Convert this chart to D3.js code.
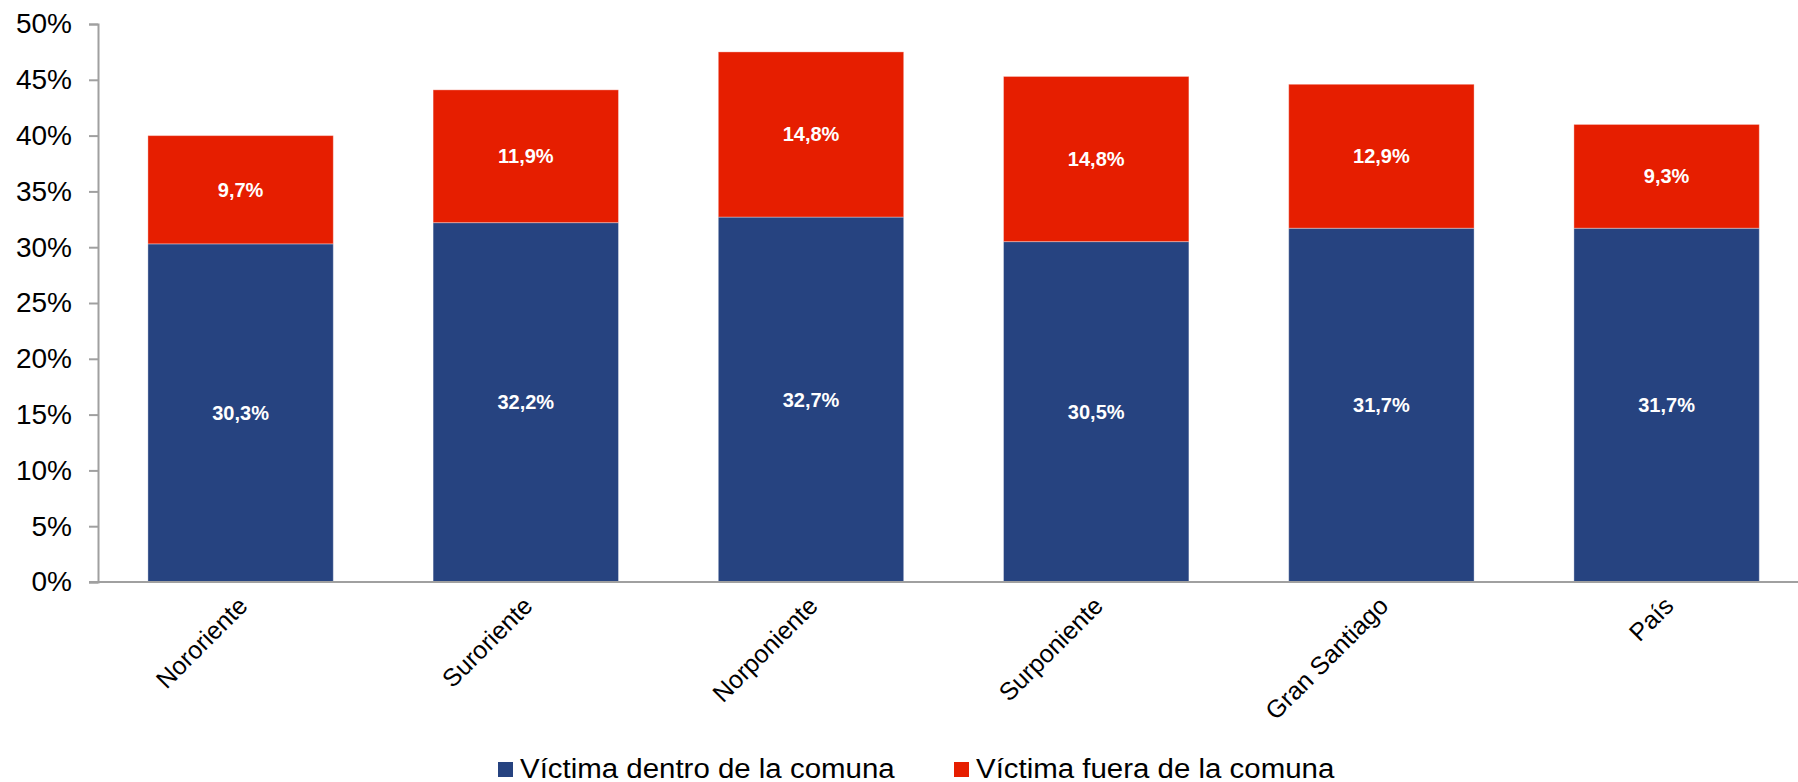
<!DOCTYPE html>
<html>
<head>
<meta charset="utf-8">
<script src="https://cdn.jsdelivr.net/npm/d3@7"></script>
<style>
  body { margin: 0; background: #fff; }
  text { font-family: "Liberation Sans", Arial, sans-serif; }
</style>
</head>
<body>
<div id="chart"></div>
<script>
// data
const categories = ["Nororiente", "Suroriente", "Norponiente", "Surponiente", "Gran Santiago", "País"];
const dentro = [30.3, 32.2, 32.7, 30.5, 31.7, 31.7];
const fuera = [9.7, 11.9, 14.8, 14.8, 12.9, 9.3];
const seriesNames = ["Víctima dentro de la comuna", "Víctima fuera de la comuna"];
const yTicks = [0, 5, 10, 15, 20, 25, 30, 35, 40, 45, 50];

const width = 1798;
const height = 782;
const colours = ["#264380", "#e61e00"];

const svg = d3.select("#chart")
    .append("svg")
    .attr("width", width)
    .attr("height", height);

// build stacked table
const table = categories.map((c, i) => ({ cat: c, dentro: dentro[i], fuera: fuera[i] }));
const stack = d3.stack().keys(["dentro", "fuera"])(table);

const x = d3.scaleBand()
    .domain(categories)
    .range([98, 98 + 6 * 285.2])
    .paddingInner(0.35)
    .paddingOuter(0.175);

const y = d3.scaleLinear()
    .domain([0, 50])
    .range([582, 24]);

// bars
const layers = svg.selectAll(".layer")
    .data(stack)
    .enter()
    .append("g")
    .attr("fill", (d, i) => colours[i]);

layers.selectAll("rect")
    .data(d => d)
    .enter()
    .append("rect")
    .attr("x", d => x(d.data.cat))
    .attr("width", x.bandwidth())
    .attr("y", d => y(d[1]))
    .attr("height", d => y(d[0]) - y(d[1]))
    .attr("stroke", "rgba(255,255,255,0.35)")
    .attr("stroke-width", 1);

// value labels
layers.selectAll("text")
    .data(d => d)
    .enter()
    .append("text")
    .attr("x", d => x(d.data.cat) + x.bandwidth() / 2)
    .attr("y", d => (y(d[0]) + y(d[1])) / 2)
    .attr("dy", "0.35em")
    .attr("text-anchor", "middle")
    .attr("fill", "#fff")
    .attr("font-weight", "bold")
    .attr("font-size", 20)
    .text(d => (d[1] - d[0]).toFixed(1).replace(".", ",") + "%");

// y axis
const yAxis = svg.append("g")
    .attr("transform", "translate(98,0)")
    .call(d3.axisLeft(y).tickValues(yTicks).tickSize(9).tickPadding(17).tickFormat(d => d + "%"));
yAxis.select(".domain").attr("stroke", "#a0a0a0").attr("stroke-width", 2);
yAxis.selectAll(".tick line").attr("stroke", "#a0a0a0").attr("stroke-width", 2);
yAxis.selectAll(".tick text")
    .attr("font-size", 28)
    .attr("fill", "#000")
    .style("font-family", "'Liberation Sans', Arial, sans-serif");

// x axis
const xAxis = svg.append("g")
    .attr("transform", "translate(0,582)")
    .call(d3.axisBottom(x).tickSize(0).tickPadding(0));
xAxis.select(".domain").attr("stroke", "#a0a0a0").attr("stroke-width", 2)
    .attr("d", "M89,0H" + width);
xAxis.selectAll(".tick text")
    .attr("font-size", 25)
    .attr("fill", "#000")
    .style("font-family", "'Liberation Sans', Arial, sans-serif")
    .attr("text-anchor", "end")
    .attr("x", 0)
    .attr("y", 0)
    .attr("dy", "0.7em")
    .attr("transform", "translate(-4,13) rotate(-45)");

// legend
const legend = svg.append("g");
const legendX = [498, 954];
seriesNames.forEach((name, i) => {
    legend.append("rect")
        .attr("x", legendX[i])
        .attr("y", 762)
        .attr("width", 15)
        .attr("height", 15)
        .attr("fill", colours[i]);
    const t = legend.append("text")
        .attr("x", legendX[i] + 22)
        .attr("y", 778)
        .attr("font-size", 27)
        .attr("fill", "#000")
        .text(name);
    // the original legend is slightly stretched sideways
    const w = t.node().getComputedTextLength();
    t.attr("textLength", w * 1.09).attr("lengthAdjust", "spacingAndGlyphs");
});
</script>
</body>
</html>
